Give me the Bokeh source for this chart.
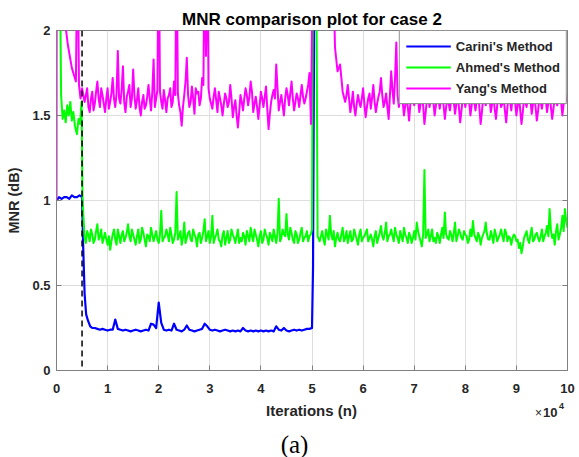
import numpy as np
from bokeh.plotting import figure
from bokeh.layouts import column
from bokeh.models import (Range1d, FixedTicker, LinearAxis, Span, Label,
                          Legend, LegendItem, CustomJSTickFormatter)
from bokeh.embed import file_html
from bokeh.resources import INLINE

# ---------------- data (x in units of 1e4 iterations) ----------------
STEP = 0.05

x_ticks = [0, 1, 2, 3, 4, 5, 6, 7, 8, 9, 10]
y_ticks = [0, 0.5, 1, 1.5, 2]
y_tick_labels = ["0", "0.5", "1", "1.5", "2"]

# Carini's Method
carini_head_x = [0.0, 0.05, 0.10, 0.15, 0.20, 0.25, 0.30, 0.35, 0.40, 0.45, 0.50,
                 0.52, 0.55, 0.58, 0.62, 0.66, 0.70]
carini_head_y = [1.00, 1.02, 1.01, 1.02, 1.02, 1.01, 1.03, 1.02, 1.02, 1.03, 1.02,
                 0.75, 0.45, 0.33, 0.29, 0.26, 0.25]
carini_body_start = 0.75
carini_body = [0.25, 0.245, 0.24, 0.245, 0.24, 0.235, 0.24, 0.24, 0.30, 0.245,
               0.24, 0.235, 0.24, 0.235, 0.23, 0.235, 0.24, 0.235, 0.23, 0.235,
               0.24, 0.235, 0.275, 0.27, 0.25, 0.40, 0.28, 0.24, 0.235, 0.24,
               0.235, 0.275, 0.24, 0.235, 0.23, 0.24, 0.265, 0.24, 0.235, 0.23,
               0.235, 0.24, 0.245, 0.275, 0.26, 0.24, 0.235, 0.24, 0.235, 0.23,
               0.235, 0.24, 0.235, 0.23, 0.235, 0.23, 0.235, 0.23, 0.25, 0.235,
               0.23, 0.235, 0.23, 0.235, 0.23, 0.235, 0.23, 0.235, 0.23, 0.235,
               0.23, 0.26, 0.24, 0.235, 0.25, 0.235, 0.23, 0.235, 0.24, 0.235,
               0.24, 0.235, 0.24, 0.245, 0.245]
carini_tail_x = [5.00, 5.02, 5.05]
carini_tail_y = [0.25, 0.60, 2.60]

# Ahmed's Method
ahmed_head_x = [0.0, 0.06, 0.09, 0.12, 0.15, 0.18, 0.21, 0.24, 0.27, 0.30, 0.33,
                0.36, 0.40, 0.43, 0.46, 0.49, 0.51]
ahmed_head_y = [2.60, 2.60, 1.62, 1.48, 1.53, 1.46, 1.56, 1.50, 1.58, 1.47, 1.52,
                1.44, 1.39, 1.48, 1.45, 1.58, 1.00]
ahmed_body1_start = 0.55
ahmed_body1 = [0.78, 0.82, 0.76, 0.80, 0.77, 0.86, 0.79, 0.75, 0.81, 0.74,
               0.71, 0.80, 0.77, 0.83, 0.75, 0.82, 0.78, 0.86, 0.76, 0.80,
               0.74, 0.83, 0.77, 0.81, 0.73, 0.79, 0.84, 0.76, 0.82, 0.75,
               0.94, 0.78, 0.83, 0.76, 0.80, 0.77, 1.05, 0.79, 0.74, 0.87,
               0.78, 0.82, 0.76, 0.80, 0.73, 0.81, 0.78, 0.89, 0.79, 0.75,
               0.91, 0.78, 0.83, 0.76, 0.80, 0.74, 0.82, 0.77, 0.80, 0.75,
               0.83, 0.78, 0.81, 0.74, 0.79, 0.84, 0.76, 0.80, 0.73, 0.82,
               0.77, 0.80, 0.74, 0.79, 0.83, 0.75, 1.01, 0.78, 0.80, 0.92,
               0.77, 0.81, 0.75, 0.80, 0.77, 0.84, 0.78, 0.82, 0.79, 0.83]
# readings half-way between the samples above
ahmed_body1_mid = [0.75, 0.80, 0.83, 0.75, 0.82, 0.77, 0.83, 0.78, 0.77,
                   0.79, 0.76, 0.83, 0.74, 0.79, 0.80, 0.76, 0.81, 0.79, 0.83, 0.77,
                   0.79, 0.75, 0.84, 0.77, 0.80, 0.76, 0.80, 0.79, 0.77,
                   0.80, 0.76, 0.79, 0.80, 0.84, 0.75, 0.81, 0.77, 0.82, 0.78,
                   0.75, 0.81, 0.77, 0.83, 0.78, 0.80, 0.75, 0.82, 0.76, 0.82,
                   0.79, 0.75, 0.80, 0.77, 0.73, 0.82, 0.78, 0.75, 0.83, 0.78,
                   0.79, 0.75, 0.76, 0.79, 0.82, 0.76, 0.79, 0.83, 0.77, 0.79,
                   0.75, 0.83, 0.78, 0.81, 0.76, 0.79, 0.81, 0.76, 0.83, 0.79,
                   0.80, 0.84, 0.77, 0.82, 0.75, 0.81, 0.76, 0.79, 0.76, 0.80]
ahmed_mid_x = [5.02, 5.08, 5.11]
ahmed_mid_y = [2.60, 2.60, 0.79]
ahmed_body2_start = 5.15
ahmed_body2 = [0.76, 0.82, 0.74, 0.80, 0.91, 0.77, 0.73, 0.81, 0.76, 0.84,
               0.78, 0.75, 0.82, 0.77, 0.80, 0.74, 0.83, 0.78, 0.81, 0.76,
               0.80, 0.73, 0.82, 0.78, 0.85, 0.77, 0.87, 0.79, 0.83, 0.76,
               0.80, 0.75, 0.79, 0.84, 0.78, 0.81, 0.75, 0.82, 0.87, 0.79,
               0.73, 1.18, 0.80, 0.76, 0.83, 0.78, 0.81, 0.75, 0.84, 0.93,
               0.78, 0.82, 0.76, 0.87, 0.79, 0.81, 0.77, 0.80, 0.75, 0.83,
               0.88, 0.78, 0.81, 0.74, 0.80, 0.87, 0.77, 0.82, 0.75, 0.80,
               0.78, 0.83, 0.76, 0.81, 0.79, 0.74, 0.80, 0.76, 0.72, 0.69,
               0.78, 0.82, 0.75, 0.84, 0.77, 0.81, 0.76, 0.83, 0.79, 0.85,
               0.95, 0.78, 0.74, 0.86, 0.80, 0.91, 0.95, 0.84]
ahmed_body2_mid = [0.79, 0.77, 0.83, 0.77, 0.80, 0.82, 0.78, 0.77, 0.80, 0.76,
                   0.82, 0.79, 0.76, 0.83, 0.77, 0.80, 0.76,
                   0.79, 0.83, 0.78, 0.77, 0.79, 0.75, 0.81, 0.79, 0.81, 0.76,
                   0.80, 0.79, 0.84, 0.78, 0.82, 0.76, 0.80, 0.75, 0.79, 0.78,
                   0.77, 0.82, 0.76, 0.80, 0.78, 0.83, 0.79, 0.76, 0.75, 0.79,
                   0.80, 0.78, 0.80, 0.77, 0.80, 0.81, 0.76, 0.83, 0.78, 0.82,
                   0.79, 0.77, 0.79, 0.80, 0.76, 0.79, 0.78, 0.82, 0.80, 0.77,
                   0.79, 0.83, 0.76, 0.80, 0.79, 0.83, 0.76, 0.78, 0.78, 0.79,
                   0.77, 0.75, 0.73, 0.80, 0.77, 0.80, 0.76, 0.80, 0.78, 0.79,
                   0.76, 0.81, 0.79, 0.83, 0.80, 0.82, 0.77, 0.84, 0.82, 0.88]

# Yang's Method
yang_head_x = [0.0, 0.005, 0.14, 0.18, 0.22, 0.26, 0.30, 0.34, 0.38, 0.41, 0.44,
               0.47, 0.50]
yang_head_y = [1.00, 2.60, 2.60, 2.02, 1.92, 1.85, 1.78, 1.74, 1.70, 2.60, 1.68,
               1.60, 1.66]
yang_body1_start = 0.55
yang_body1 = [1.58, 1.66, 1.52, 1.64, 1.57, 1.70, 1.55, 1.62, 1.52, 1.66,
              1.58, 1.72, 1.55, 1.88, 1.57, 1.79, 1.52, 1.64, 1.55, 1.77,
              1.54, 1.66, 1.50, 1.62, 1.56, 1.68, 1.53, 1.83, 1.60, 2.60,
              1.58, 1.65, 1.52, 1.62, 1.55, 1.70, 2.60, 1.56, 1.44, 1.62,
              1.84, 1.55, 1.67, 1.51, 1.63, 1.56, 1.72, 2.60, 2.60, 1.60,
              1.54, 1.66, 1.52, 1.60, 1.50, 1.63, 1.55, 1.68, 1.49, 1.59,
              1.43, 1.62, 1.53, 1.66, 1.56, 1.70, 1.52, 1.61, 1.48, 1.64,
              1.55, 1.67, 1.42, 1.58, 1.65, 1.80, 1.53, 1.62, 1.50, 1.66,
              1.56, 1.70, 1.53, 1.63, 1.55, 1.68, 1.57, 1.64, 1.75]
yang_body1_mid = [1.62, 1.55, 1.60, 1.53, 1.64, 1.60, 1.66, 1.57, 1.60,
                  1.54, 1.63, 1.60, 1.63, 1.60, 1.65, 1.58, 1.61, 1.68, 1.60,
                  1.62, 1.59, 1.55, 1.58, 1.54, 1.61, 1.60, 1.64, 1.55, 1.65,
                  1.64, 1.54, 1.59, 1.60, 1.66, 1.58, 1.62, 1.63, 1.52, 1.55,
                  1.70, 1.62, 1.58, 1.60, 1.66, 1.64, 1.60, 1.68, 1.85, 1.66,
                  1.57, 1.61, 1.59, 1.64, 1.56, 1.57, 1.60, 1.58, 1.60, 1.55,
                  1.50, 1.52, 1.58, 1.60, 1.62, 1.61, 1.64, 1.57, 1.55, 1.56,
                  1.60, 1.61, 1.54, 1.51, 1.62, 1.60, 1.66, 1.58, 1.56, 1.60,
                  1.62, 1.63, 1.60, 1.58, 1.60, 1.62, 1.61, 1.60, 1.68]
yang_mid_x = [4.98, 5.02, 5.40, 5.45, 5.50, 5.55, 5.60]
yang_mid_y = [1.45, 2.60, 2.60, 1.90, 1.76, 1.80, 1.64]
yang_body2_start = 5.65
yang_body2 = [1.58, 1.68, 1.52, 1.64, 1.50, 1.62, 1.55, 1.66,
              1.49, 1.60, 1.54, 1.68, 1.52, 1.61, 1.72, 1.55, 1.63, 1.48,
              1.76, 1.57, 1.93, 1.55, 1.66, 1.50, 1.62, 1.47, 1.64, 1.56,
              1.70, 1.52, 1.63, 1.45, 1.60, 1.55, 1.68, 1.50, 1.62, 1.54,
              1.66, 1.48, 1.61, 1.53, 1.67, 1.51, 1.64, 1.46, 1.60, 1.55,
              1.68, 1.50, 1.63, 1.53, 1.66, 1.45, 1.61, 1.56, 1.69, 1.52,
              1.62, 1.48, 1.65, 1.55, 1.60, 1.46, 1.64, 1.53, 1.67, 1.50,
              1.62, 1.45, 1.60, 1.55, 1.68, 1.51, 1.63, 1.47, 1.61, 1.54,
              1.66, 1.52, 1.64, 1.48, 1.60, 1.56, 1.67, 1.50, 1.63, 1.58]
yang_body2_mid = [1.62, 1.60, 1.57, 1.55, 1.57, 1.58, 1.60,
                  1.57, 1.55, 1.63, 1.60, 1.58, 1.57, 1.64, 1.62, 1.58, 1.55,
                  1.62, 1.65, 1.72, 1.62, 1.60, 1.58, 1.56, 1.55, 1.57, 1.60,
                  1.62, 1.60, 1.57, 1.56, 1.52, 1.62, 1.60, 1.58, 1.56, 1.59,
                  1.60, 1.56, 1.55, 1.57, 1.60, 1.58, 1.57, 1.55, 1.53, 1.62,
                  1.60, 1.58, 1.56, 1.58, 1.60, 1.55, 1.52, 1.59, 1.62, 1.60,
                  1.57, 1.54, 1.56, 1.60, 1.57, 1.53, 1.55, 1.59, 1.60, 1.58,
                  1.56, 1.53, 1.52, 1.58, 1.62, 1.59, 1.57, 1.55, 1.53, 1.58,
                  1.60, 1.59, 1.58, 1.55, 1.54, 1.58, 1.62, 1.58, 1.57, 1.60]

# texts under the axes
x_axis_title = "Iterations (n)"
x_multiplier_sign = "×"
x_multiplier_base = "10"
x_multiplier_exp = "4"
caption = "(a)"


def sampled(start, vals, mids=()):
    """Place readings on the 0.05 reading grid (with optional half-step readings)."""
    xs, ys = [], []
    for i, v in enumerate(vals):
        xs.append(round(start + STEP * i, 4))
        ys.append(v)
        if i < len(mids) and i < len(vals) - 1:
            xs.append(round(start + STEP * (i + 0.5), 4))
            ys.append(mids[i])
    return xs, ys


cb_x, cb_y = sampled(carini_body_start, carini_body)
carini_x = carini_head_x + cb_x + carini_tail_x
carini_y = carini_head_y + cb_y + carini_tail_y

a1_x, a1_y = sampled(ahmed_body1_start, ahmed_body1, ahmed_body1_mid)
a2_x, a2_y = sampled(ahmed_body2_start, ahmed_body2, ahmed_body2_mid)
ahmed_x = ahmed_head_x + a1_x + ahmed_mid_x + a2_x
ahmed_y = ahmed_head_y + a1_y + ahmed_mid_y + a2_y

y1_x, y1_y = sampled(yang_body1_start, yang_body1, yang_body1_mid)
y2_x, y2_y = sampled(yang_body2_start, yang_body2, yang_body2_mid)
yang_x = yang_head_x + y1_x + yang_mid_x + y2_x
yang_y = yang_head_y + y1_y + yang_mid_y + y2_y

# ---------------- main figure ----------------
FONT = "Liberation Sans"
AX_COL = "#808080"
TXT_COL = "#262626"
W = 579
MAIN_H = 400
FOOT_H = 57
BORDER_L = 56
BORDER_R = 12

p = figure(width=W, height=MAIN_H, output_backend="svg", toolbar_location=None,
           x_range=Range1d(0, 10), y_range=Range1d(0, 2),
           min_border_left=BORDER_L, min_border_right=BORDER_R, min_border_top=30,
           min_border_bottom=30, background_fill_color="white",
           border_fill_color="white")

p.title.text = "MNR comparison plot for case 2"
p.title.align = "center"
p.title.text_font = FONT
p.title.text_font_size = "17px"
p.title.text_font_style = "bold"
p.title.text_color = "#000000"
p.title.standoff = 3

p.outline_line_color = AX_COL
p.outline_line_width = 1

for ax in (p.xaxis[0], p.yaxis[0]):
    ax.axis_line_color = AX_COL
    ax.major_tick_line_color = AX_COL
    ax.major_tick_in = 5
    ax.major_tick_out = 0
    ax.minor_tick_line_color = None
    ax.major_label_text_font = FONT
    ax.major_label_text_font_style = "bold"
    ax.major_label_text_font_size = "13px"
    ax.major_label_text_color = TXT_COL
    ax.axis_label_text_font = FONT
    ax.axis_label_text_font_style = "bold"
    ax.axis_label_text_font_size = "14.5px"
    ax.axis_label_text_color = TXT_COL

p.xaxis.ticker = FixedTicker(ticks=x_ticks)
p.yaxis.ticker = FixedTicker(ticks=y_ticks)
p.yaxis.major_label_overrides = {t: l for t, l in zip(y_ticks, y_tick_labels)}
p.yaxis.axis_label = "MNR (dB)"
p.xaxis.major_label_standoff = 13
p.yaxis.major_label_standoff = 6
p.yaxis.axis_label_standoff = 7

p.xgrid.ticker = FixedTicker(ticks=x_ticks)
p.ygrid.ticker = FixedTicker(ticks=y_ticks)
p.grid.grid_line_color = "#dedede"
p.grid.grid_line_width = 1

# box ticks on right side
rax = LinearAxis(ticker=FixedTicker(ticks=y_ticks),
                 formatter=CustomJSTickFormatter(code="return ''"),
                 axis_line_color=AX_COL, major_tick_line_color=AX_COL,
                 major_tick_in=5, major_tick_out=0, minor_tick_line_color=None,
                 major_label_standoff=0)
p.add_layout(rax, "right")

r_c = p.line(carini_x, carini_y, line_color="#0000FF", line_width=2.2, line_join="round")
r_a = p.line(ahmed_x, ahmed_y, line_color="#00FF00", line_width=2.0, line_join="round")
r_y = p.line(yang_x, yang_y, line_color="#FF00FF", line_width=2.0, line_join="round")

p.add_layout(Span(location=0.5, dimension="height", line_color="black",
                  line_dash="6 4", line_width=1.5))

legend = Legend(items=[LegendItem(label="Carini's Method", renderers=[r_c]),
                       LegendItem(label="Ahmed's Method", renderers=[r_a]),
                       LegendItem(label="Yang's Method", renderers=[r_y])],
                location="top_right", margin=0, padding=6, spacing=3,
                glyph_width=45, glyph_height=18, label_height=18,
                label_standoff=5, border_line_color="#262626",
                border_line_width=1.5, background_fill_color="white",
                background_fill_alpha=1.0,
                label_text_font=FONT, label_text_font_style="bold",
                label_text_font_size="13px", label_text_color=TXT_COL)
p.add_layout(legend)

# ---------------- footer strip: axis title, multiplier, caption ----------------
# the strip's frame lines up with the main frame; its coordinates are page pixels
foot = figure(width=W, height=FOOT_H, output_backend="svg", toolbar_location=None,
              x_range=Range1d(BORDER_L, W - BORDER_R),
              y_range=Range1d(MAIN_H + FOOT_H, MAIN_H),
              x_axis_type=None, y_axis_type=None, min_border=0,
              min_border_left=BORDER_L, min_border_right=BORDER_R,
              min_border_top=0, min_border_bottom=0, outline_line_color=None,
              background_fill_color="white", border_fill_color="white")
foot.grid.visible = False

foot.add_layout(Label(x=311, y=410, text=x_axis_title, text_align="center",
                      text_baseline="middle", text_font=FONT,
                      text_font_style="bold", text_font_size="15px",
                      text_color=TXT_COL))
foot.add_layout(Label(x=541.5, y=412, text=x_multiplier_sign, text_align="right",
                      text_baseline="middle", text_font=FONT,
                      text_font_style="normal", text_font_size="12px",
                      text_color=TXT_COL))
foot.add_layout(Label(x=557, y=412, text=x_multiplier_base, text_align="right",
                      text_baseline="middle", text_font=FONT,
                      text_font_style="bold", text_font_size="13px",
                      text_color=TXT_COL))
foot.add_layout(Label(x=558.5, y=405.5, text=x_multiplier_exp, text_align="left",
                      text_baseline="middle", text_font=FONT,
                      text_font_style="bold", text_font_size="9px",
                      text_color=TXT_COL))
foot.add_layout(Label(x=294, y=444, text=caption, text_align="center",
                      text_baseline="middle", text_font="Liberation Serif",
                      text_font_size="25px", text_color="#000000"))

layout = column(p, foot, spacing=0)

open("out.html", "w").write(file_html(layout, INLINE))
